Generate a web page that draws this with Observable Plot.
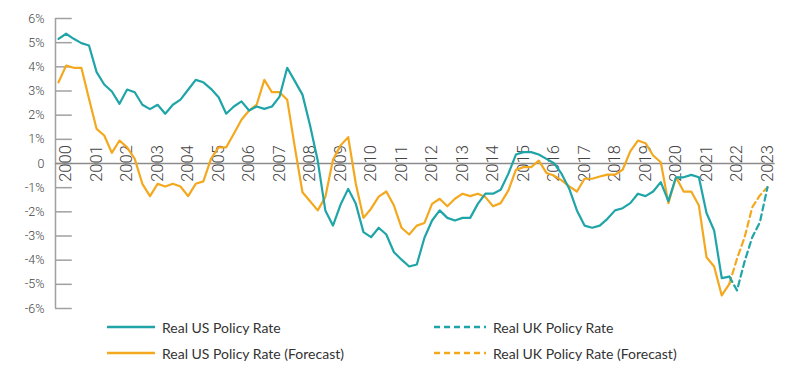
<!DOCTYPE html>
<html><head><meta charset="utf-8">
<script src="https://cdn.jsdelivr.net/npm/d3@7"></script>
<script src="https://cdn.jsdelivr.net/npm/@observablehq/plot@0.6"></script>
<style>
body{margin:0;background:#fff;font-family:"Liberation Sans",Arial,sans-serif;}
#wrap{position:relative;width:806px;height:382px;overflow:hidden;}
.leg{position:absolute;display:flex;align-items:center;font-family:Lato,"Open Sans",sans-serif;font-size:14px;color:#333;white-space:nowrap;}
.leg svg{margin-right:7px;}
</style></head><body>
<div id="wrap"><div id="chart"></div><div id="legend"></div></div>
<script>
// x-axis labels and y-axis ticks
const years = d3.range(2000, 2024);
const yTicks = d3.range(-6, 7);
const startYear = 1999.75;   // first quarterly observation
const dashFrom = 88;         // index where the dashed (UK) part begins

// Teal series: "Real US Policy Rate" (solid) / "Real UK Policy Rate" (dashed)
const tealValues = [
  5.16, 5.37, 5.16, 4.98, 4.88, 3.78, 3.27, 2.98, 2.47, 3.06,
  2.95, 2.43, 2.25, 2.43, 2.06, 2.43, 2.64, 3.05, 3.46, 3.36,
  3.09, 2.74, 2.06, 2.36, 2.57, 2.19, 2.36, 2.26, 2.36, 2.77,
  3.96, 3.41, 2.85, 1.57, 0.12, -1.94, -2.57, -1.70, -1.05, -1.67,
  -2.84, -3.05, -2.66, -2.94, -3.67, -3.98, -4.26, -4.18, -3.07, -2.36,
  -1.94, -2.25, -2.36, -2.25, -2.25, -1.67, -1.25, -1.25, -1.09, -0.43,
  0.37, 0.47, 0.47, 0.37, 0.19, 0.01, -0.43, -1.05, -1.94, -2.57,
  -2.66, -2.57, -2.29, -1.94, -1.85, -1.64, -1.25, -1.35, -1.16, -0.77,
  -1.56, -0.57, -0.57, -0.47, -0.57, -2.05, -2.77, -4.74, -4.68, -5.25,
  -4.05, -3.05, -2.43, -0.98
];

// Orange series: "Real US Policy Rate (Forecast)" (solid) / "Real UK Policy Rate (Forecast)" (dashed)
const orangeValues = [
  3.36, 4.05, 3.96, 3.96, 2.68, 1.43, 1.16, 0.44, 0.95, 0.67,
  0.19, -0.84, -1.35, -0.84, -0.95, -0.84, -0.95, -1.35, -0.84, -0.74,
  0.19, 0.67, 0.67, 1.23, 1.81, 2.19, 2.44, 3.46, 2.95, 2.95,
  2.64, 0.67, -1.19, -1.56, -1.94, -1.39, 0.15, 0.75, 1.09, -0.84,
  -2.25, -1.87, -1.37, -1.16, -1.74, -2.66, -2.94, -2.57, -2.46, -1.67,
  -1.46, -1.77, -1.46, -1.25, -1.35, -1.25, -1.39, -1.77, -1.64, -1.12,
  -0.26, -0.15, -0.15, 0.12, -0.39, -0.50, -0.70, -0.95, -1.16, -0.63,
  -0.63, -0.54, -0.46, -0.46, -0.26, 0.50, 0.95, 0.84, 0.33, 0.05,
  -1.64, -0.57, -1.16, -1.16, -1.74, -3.88, -4.26, -5.46, -4.98, -3.94,
  -3.05, -1.81, -1.32, -0.98
];

const seriesNames = ["Real US Policy Rate", "Real UK Policy Rate", "Real US Policy Rate (Forecast)", "Real UK Policy Rate (Forecast)"];
const teal = "#1fa5a8", orange = "#f3a81e", axisGray = "#a0a0a0";

function rows(values, key) {
  return values.map((v, i) => ({t: startYear + i / 4, v, i, key}));
}
const tealRows = rows(tealValues, "teal");
const orangeRows = rows(orangeValues, "orange");
const xEnd = startYear + (tealValues.length - 1) / 4;
const fmt = d => d === 0 ? "0" : (d < 0 ? "-" + Math.abs(d) : d) + "%";

const chart = Plot.plot({
  width: 806,
  height: 316,
  marginLeft: 58,
  marginRight: 39,
  marginTop: 18,
  marginBottom: 8,
  x: {domain: [startYear, xEnd], axis: null},
  y: {domain: [-6, 6], axis: null},
  style: {background: "#fff", overflow: "visible"},
  marks: [
    Plot.ruleX([startYear], {y1: -6, y2: 6, dx: -3, stroke: axisGray, strokeWidth: 1.5}),
    Plot.ruleY(yTicks, {x1: startYear, x2: startYear + 0.55, dx: -3, stroke: axisGray, strokeWidth: 1.5}),
    Plot.ruleY([0], {x1: startYear, x2: xEnd + 0.35, dx: -3, stroke: "#8c8c8c", strokeWidth: 1.3}),
    Plot.text(yTicks, {x: startYear, y: d => d, text: fmt, dx: -14, textAnchor: "end", fontSize: 12.5, fontFamily: "Roboto", fontWeight: 300, fill: "#444"}),
    Plot.text(years, {x: d => d, y: 0, text: d => String(d), rotate: -90, fontSize: 16.5, fontFamily: "Roboto", fontWeight: 300, fill: "#444"}),
    Plot.line(orangeRows.filter(d => d.i <= dashFrom), {x: "t", y: "v", stroke: orange, strokeWidth: 2.2}),
    Plot.line(orangeRows.filter(d => d.i >= dashFrom), {x: "t", y: "v", stroke: orange, strokeWidth: 2.2, strokeDasharray: "6,4"}),
    Plot.line(tealRows.filter(d => d.i <= dashFrom), {x: "t", y: "v", stroke: teal, strokeWidth: 2.2}),
    Plot.line(tealRows.filter(d => d.i >= dashFrom), {x: "t", y: "v", stroke: teal, strokeWidth: 2.2, strokeDasharray: "6,4"})
  ]
});
document.getElementById("chart").appendChild(chart);

// Legend (HTML, below the SVG)
const legendItems = [
  {name: seriesNames[0], color: teal, dash: null, left: 107, top: 327, w: 48},
  {name: seriesNames[1], color: teal, dash: "6,4", left: 434, top: 327, w: 52},
  {name: seriesNames[2], color: orange, dash: null, left: 107, top: 353, w: 48},
  {name: seriesNames[3], color: orange, dash: "6,4", left: 434, top: 353, w: 52}
];
const legend = document.getElementById("legend");
for (const it of legendItems) {
  const div = document.createElement("div");
  div.className = "leg";
  div.style.left = it.left + "px";
  div.style.top = (it.top - 10) + "px";
  div.style.height = "20px";
  div.innerHTML = `<svg width="${it.w}" height="6"><line x1="0" x2="${it.w}" y1="3" y2="3" stroke="${it.color}" stroke-width="2.5" ${it.dash ? `stroke-dasharray="${it.dash}"` : ""}/></svg><span>${it.name}</span>`;
  legend.appendChild(div);
}
</script>
</body></html>
